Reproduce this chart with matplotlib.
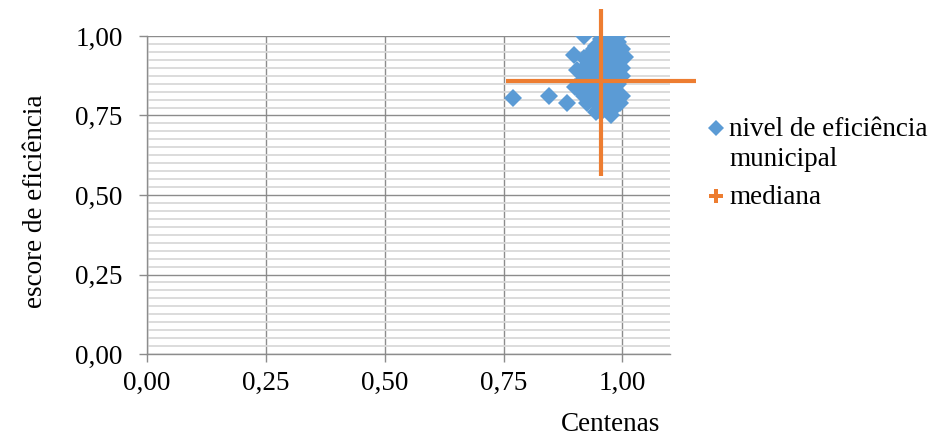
import matplotlib
matplotlib.use('agg')
import matplotlib.pyplot as plt
from matplotlib.ticker import MultipleLocator, FuncFormatter

# nivel de eficiencia municipal (x em centenas, y escore)
ef_x = [0.770, 0.845, 0.883, 0.898, 0.920, 0.905, 0.915, 0.925, 0.935, 0.910,
        0.930, 0.940, 0.950, 0.960, 0.975, 0.995, 0.990, 0.985, 0.970, 0.960,
        0.945, 0.950, 0.940, 0.955, 0.968, 0.990, 1.000, 1.005, 0.998, 1.000,
        0.985, 0.975, 0.980, 0.970, 0.985, 0.960, 0.965, 0.950, 0.940, 0.955,
        0.945, 0.925, 0.900, 0.920, 0.935,
        0.960, 0.970, 0.980, 0.955, 0.965, 0.975, 0.990, 0.995, 0.990, 0.975,
        0.960, 0.945, 0.930, 0.925, 0.915, 0.920, 0.985, 0.970, 0.950, 0.940,
        0.990, 1.000, 0.960, 0.980]
ef_y = [0.805, 0.812, 0.790, 0.940, 1.000, 0.893, 0.880, 0.860, 0.845, 0.830,
        0.820, 0.800, 0.780, 0.770, 0.752, 0.790, 0.810, 0.830, 0.850, 0.870,
        0.900, 0.930, 0.960, 0.990, 1.000, 1.000, 0.960, 0.935, 0.900, 0.875,
        0.880, 0.910, 0.940, 0.970, 0.965, 0.950, 0.920, 0.850, 0.830, 0.815,
        0.760, 0.790, 0.840, 0.930, 0.910,
        0.800, 0.790, 0.770, 0.760, 0.830, 0.860, 0.850, 0.920, 0.950, 0.990,
        0.985, 0.970, 0.940, 0.910, 0.860, 0.810, 0.780, 0.810, 0.870, 0.880,
        0.980, 0.810, 0.900, 0.890]

# mediana e barras
med_x = 0.955
med_y = 0.86
med_xerr = 0.20
med_yerr_low = 0.30
med_yerr_high = 0.225

blue = '#5B9BD5'
orange = '#ED7D31'

plt.rcParams['font.family'] = ['Liberation Serif', 'DejaVu Serif']
plt.rcParams['font.size'] = 19.5

fig = plt.figure(figsize=(9.41, 4.4), dpi=100)
ax = fig.add_axes([147/941, 1-354/440, (670-147)/941, (354-36)/440])

ax.set_xlim(0, 1.10)
ax.set_ylim(0, 1.0)

ax.xaxis.set_major_locator(MultipleLocator(0.25))
ax.yaxis.set_major_locator(MultipleLocator(0.25))
ax.yaxis.set_minor_locator(MultipleLocator(0.025))
fmt = FuncFormatter(lambda v, p: ('%.2f' % v).replace('.', ','))
ax.xaxis.set_major_formatter(fmt)
ax.yaxis.set_major_formatter(fmt)

ax.grid(which='minor', axis='y', color='#d9d9d9', linewidth=1.3, zorder=0)
ax.grid(which='major', axis='both', color='#8c8c8c', linewidth=1.0, zorder=0)
ax.set_axisbelow(True)

for s in ['top', 'right']:
    ax.spines[s].set_visible(False)
for s in ['left', 'bottom']:
    ax.spines[s].set_color('#8c8c8c')
    ax.spines[s].set_linewidth(1.0)
ax.tick_params(which='major', direction='out', length=6, width=1.0, color='#8c8c8c')
ax.tick_params(which='minor', length=0)
ax.tick_params(axis='y', pad=11.5)
ax.tick_params(axis='x', pad=6)

ax.plot(ef_x, ef_y, linestyle='none', marker='D', markersize=9.5,
        color=blue, markeredgewidth=0, zorder=3)

ax.plot([med_x - med_xerr, med_x + med_xerr], [med_y, med_y],
        color=orange, linewidth=3, solid_capstyle='butt', clip_on=False, zorder=4)
ax.plot([med_x, med_x], [med_y - med_yerr_low, med_y + med_yerr_high],
        color=orange, linewidth=3, solid_capstyle='butt', clip_on=False, zorder=4)

ax.set_ylabel('escore de eficiência')
ax.yaxis.set_label_coords((48-147)/523, 0.48)
fig.text(611/941, 1-424/440, 'Centenas', ha='center', va='center')

# legenda
fig.lines.append(plt.Line2D([716/941], [1-128/440], transform=fig.transFigure,
                            marker='D', markersize=8, color=blue, markeredgewidth=0, linestyle='none'))
fig.lines.append(plt.Line2D([716/941], [1-196/440], transform=fig.transFigure,
                            marker='P', markersize=10, color=orange, markeredgewidth=0, linestyle='none'))
fig.text(729/941, 1-130/440, 'nivel de eficiência', ha='left', va='center')
fig.text(729/941, 1-159/440, 'municipal', ha='left', va='center')
fig.text(729/941, 1-197/440, 'mediana', ha='left', va='center')

fig.savefig('out.png', dpi=100)
